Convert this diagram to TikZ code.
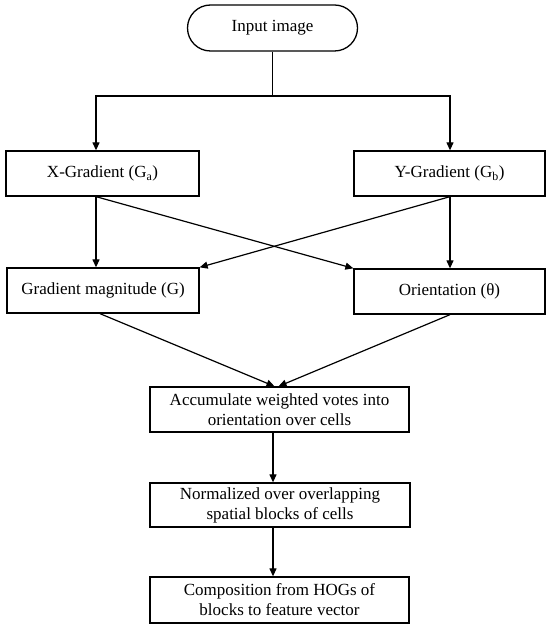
\documentclass[tikz,border=0pt]{standalone}
\usepackage{fontspec}
\setmainfont{Liberation Serif}
\usetikzlibrary{arrows.meta}
\begin{document}
\begin{tikzpicture}[x=1pt,y=-1pt,
  box/.style={draw,line width=1.3pt,minimum height=45pt,inner sep=0pt,font=\fontsize{17}{20}\selectfont,align=center},
  arr/.style={line width=1.2pt,-{Triangle[length=8pt,width=7pt]}},
  ln/.style={line width=1.2pt}]
\useasboundingbox[fill=white] (0,0) rectangle (550,628);
\node[box,rounded corners=23pt,minimum width=170pt,minimum height=46pt] (input) at (272.5,28) {Input image};
\node[box,minimum width=193pt] (xg) at (102.5,173.5) {X-Gradient (G\textsubscript{a})};
\node[box,minimum width=191pt] (yg) at (449.5,173.5) {Y-Gradient (G\textsubscript{b})};
\node[box,minimum width=192pt] (gm) at (103,290.5) {Gradient magnitude (G)};
\node[box,minimum width=191pt] (or) at (449.5,291.5) {Orientation (θ)};
\node[box,minimum width=259pt] (acc) at (279.5,409.5) {Accumulate weighted votes into\\orientation over cells};
\node[box,minimum width=260pt,minimum height=44pt] (nor) at (280,505) {Normalized over overlapping\\spatial blocks of cells};
\node[box,minimum width=259pt,minimum height=46pt] (comp) at (279.5,600) {Composition from HOGs of\\blocks to feature vector};
\coordinate (split) at (272.5,96);
\draw[ln] (input.south) -- (split);
\draw[arr] (split) -| ([xshift=-6.5pt]xg.north);
\draw[arr] (split) -| ([xshift=0.5pt]yg.north);
\draw[arr] ([xshift=-6.5pt]xg.south) -- ([xshift=-7pt]gm.north);
\draw[arr] ([xshift=0.5pt]yg.south) -- ([xshift=0.5pt]or.north);
\draw[arr] ([xshift=-6.5pt]xg.south) -- (or.north west);
\draw[arr] ([xshift=0.5pt]yg.south) -- (gm.north east);
\draw[arr] ([xshift=-3pt]gm.south) -- ([xshift=-5pt]acc.north);
\draw[arr] ([xshift=0.5pt]or.south) -- ([xshift=-1pt]acc.north);
\draw[arr] ([xshift=-6.5pt]acc.south) -- ([xshift=-7pt]nor.north);
\draw[arr] ([xshift=-7pt]nor.south) -- ([xshift=-6.5pt]comp.north);
\end{tikzpicture}
\end{document}
